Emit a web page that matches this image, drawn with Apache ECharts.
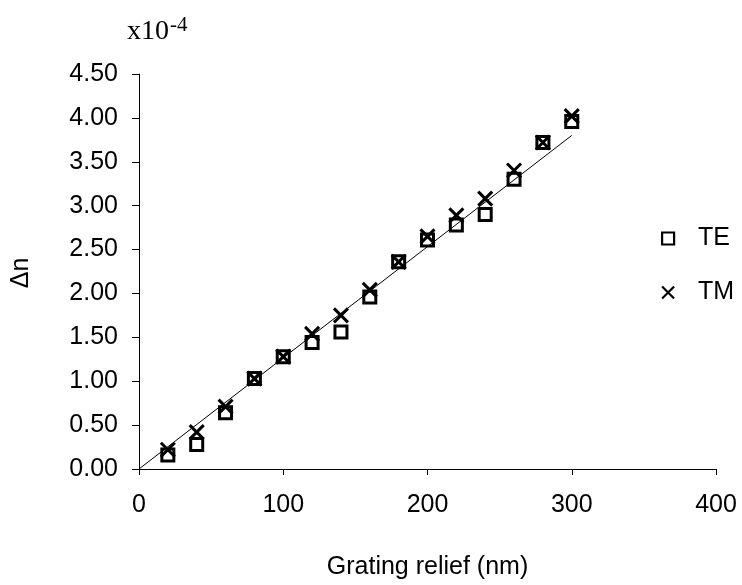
<!DOCTYPE html>
<html>
<head>
<meta charset="utf-8">
<script src="https://cdn.jsdelivr.net/npm/echarts@6/dist/echarts.min.js"></script>
<style>
html,body{margin:0;padding:0;background:#fff;}
#chart{width:742px;height:585px;}
</style>
</head>
<body>
<div id="chart"></div>
<script>
var relief = [20, 40, 60, 80, 100, 120, 140, 160, 180, 200, 220, 240, 260, 280, 300];
var teValues = [0.16, 0.28, 0.64, 1.03, 1.28, 1.44, 1.56, 1.96, 2.36, 2.61, 2.78, 2.90, 3.30, 3.72, 3.96];
var tmValues = [0.22, 0.42, 0.71, 1.03, 1.28, 1.54, 1.75, 2.04, 2.36, 2.65, 2.89, 3.08, 3.40, 3.72, 4.02];
var fitX = [0, 300];
var fitY = [0, 3.80];
var seriesNames = ['TE', 'TM'];

function pairs(xs, ys) { return xs.map(function (x, i) { return [x, ys[i]]; }); }

var crossPath = 'path://M0,0L10,10M10,0L0,10';
var chart = echarts.init(document.getElementById('chart'));
chart.setOption({
  animation: false,
  backgroundColor: '#fff',
  textStyle: { fontFamily: 'Liberation Sans, Arial, sans-serif' },
  grid: { left: 139, right: 26, top: 74, bottom: 112 },
  xAxis: {
    type: 'value', min: 0, max: 400, interval: 100,
    name: 'Grating relief (nm)', nameLocation: 'middle', nameGap: 86,
    nameTextStyle: { fontSize: 25, color: '#000', fontFamily: 'Liberation Sans, Arial, sans-serif' },
    axisLine: { onZero: false, lineStyle: { color: '#000', width: 1 } },
    axisTick: { show: true, inside: false, length: 6, lineStyle: { color: '#000' } },
    axisLabel: { fontSize: 25, color: '#000', margin: 24 },
    splitLine: { show: false }
  },
  yAxis: {
    type: 'value', min: 0, max: 4.5, interval: 0.5,
    axisLine: { show: true, lineStyle: { color: '#000', width: 1 } },
    axisTick: { show: true, inside: false, length: 7, lineStyle: { color: '#000' } },
    axisLabel: { fontSize: 25, color: '#000', margin: 21, formatter: function (v) { return v.toFixed(2); } },
    splitLine: { show: false }
  },
  legend: {
    data: [
      { name: 'TE', icon: 'rect', itemStyle: { color: 'rgba(0,0,0,0)', borderColor: '#000', borderWidth: 2.2, opacity: 1 } },
      { name: 'TM', icon: crossPath, itemStyle: { color: 'rgba(0,0,0,0)', borderColor: '#000', borderWidth: 2.2, opacity: 1 } }
    ],
    orient: 'vertical', left: 656, top: 221,
    itemWidth: 12, itemHeight: 12, itemGap: 29,
    textStyle: { fontSize: 25, color: '#000', padding: [0, 0, 0, 19] }
  },
  graphic: [
    { type: 'text', x: 21, y: 273, rotation: Math.PI / 2,
      style: { text: 'Δn', fontSize: 25, fontFamily: 'Liberation Sans, Arial, sans-serif', fill: '#000', align: 'center', verticalAlign: 'middle' } },
    { type: 'text', x: 127, y: 32,
      style: { text: 'x10', fontSize: 28, fontFamily: 'Liberation Serif, Times New Roman, serif', fill: '#000', align: 'left', verticalAlign: 'middle' } },
    { type: 'text', x: 170, y: 25,
      style: { text: '-4', fontSize: 21, fontFamily: 'Liberation Serif, Times New Roman, serif', fill: '#000', align: 'left', verticalAlign: 'middle' } }
  ],
  series: [
    {
      name: 'fit', type: 'line', data: pairs(fitX, fitY), showSymbol: false, symbol: 'none',
      lineStyle: { color: '#000', width: 1 }, silent: true, z: 1
    },
    {
      name: seriesNames[0], type: 'scatter', data: pairs(relief, teValues),
      symbol: 'rect', symbolSize: 12,
      itemStyle: { color: 'rgba(0,0,0,0)', borderColor: '#000', borderWidth: 3, opacity: 1 }, z: 2
    },
    {
      name: seriesNames[1], type: 'scatter', data: pairs(relief, tmValues),
      symbol: crossPath, symbolSize: 14,
      itemStyle: { color: 'rgba(0,0,0,0)', borderColor: '#000', borderWidth: 3, opacity: 1 }, z: 3
    }
  ]
});
</script>
</body>
</html>
